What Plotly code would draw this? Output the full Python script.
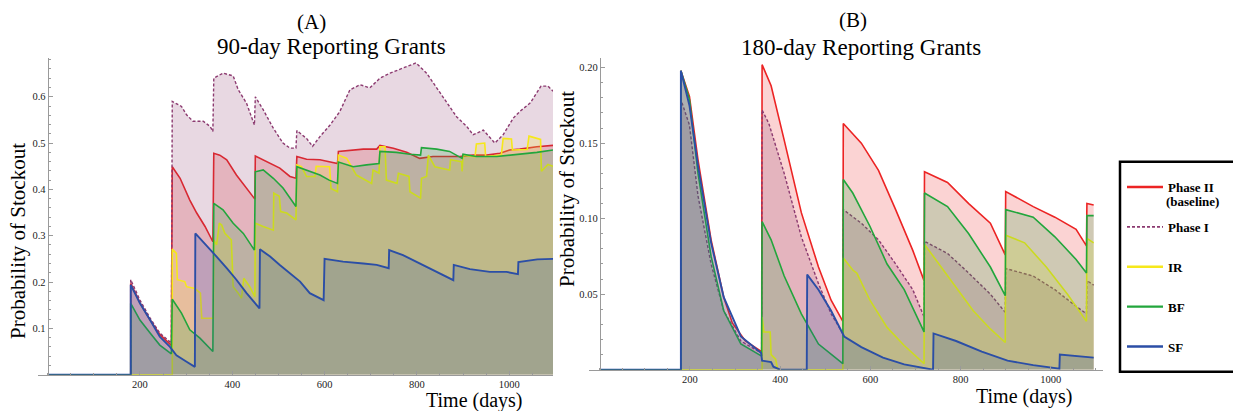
import plotly.graph_objects as go

# ---------------- data (day, probability) ----------------
# Panel A: 90-day reporting grants
A_PHASE2 = [(0,0),(180,0),(180,0.197),(200,0.155),(222,0.118),(243,0.087),(268,0.063),
            (270,0.449),(287,0.424),(308,0.377),(323,0.349),(341,0.320),(358,0.287),
            (360,0.478),(373,0.474),(388,0.464),(409,0.431),(431,0.403),(449,0.379),
            (450,0.472),(474,0.460),(503,0.446),(525,0.428),(538,0.424),
            (540,0.471),(561,0.465),(590,0.464),(610,0.459),(628,0.456),
            (630,0.482),(655,0.485),(684,0.487),(713,0.487),(720,0.495),(749,0.489),
            (778,0.480),(806,0.467),(835,0.471),(864,0.471),(893,0.471),(922,0.474),
            (951,0.474),(980,0.478),(1001,0.485),(1023,0.487),(1060,0.492),(1095,0.495)]
A_PHASE1 = [(0,0),(180,0),(180,0.205),(200,0.161),(222,0.122),(243,0.090),(268,0.068),
            (270,0.590),(290,0.579),(301,0.561),(315,0.547),(337,0.547),(352,0.536),(358,0.525),
            (360,0.640),(380,0.651),(402,0.645),(413,0.615),(431,0.586),(448,0.539),
            (450,0.600),(467,0.572),(489,0.532),(510,0.500),(525,0.489),(538,0.489),
            (540,0.527),(561,0.510),(574,0.493),(590,0.514),(612,0.539),(633,0.568),
            (655,0.615),(677,0.626),(698,0.619),(720,0.640),(742,0.651),(770,0.662),
            (798,0.673),(821,0.651),(843,0.619),(864,0.590),(886,0.557),(908,0.536),
            (922,0.518),(944,0.528),(969,0.500),(987,0.518),(1009,0.554),(1023,0.568),
            (1046,0.587),(1069,0.623),(1084,0.623),(1095,0.612)]
A_IR = [(0,0),(270,0),(270,0.271),(279,0.262),(281,0.205),(297,0.201),(301,0.190),
        (319,0.186),(331,0.176),(334,0.122),(359,0.122),
        (360,0.291),(366,0.280),(372,0.327),(377,0.323),(384,0.305),(398,0.291),
        (402,0.190),(413,0.176),(420,0.165),(425,0.208),(438,0.190),(449,0.168),
        (450,0.327),(467,0.320),(489,0.312),(490,0.392),(502,0.385),(505,0.352),
        (518,0.349),(538,0.334),
        (540,0.453),(550,0.449),(561,0.428),(579,0.428),(582,0.450),(611,0.449),
        (614,0.402),(628,0.395),
        (630,0.474),(648,0.467),(669,0.431),(702,0.413),(705,0.442),(718,0.435),
        (720,0.492),(731,0.492),(734,0.420),(757,0.413),(760,0.435),(783,0.428),
        (785,0.395),(808,0.381),(810,0.424),(821,0.428),(825,0.474),(839,0.449),
        (871,0.442),(873,0.464),(897,0.460),(898,0.439),(900,0.474),(926,0.471),
        (929,0.498),(947,0.500),(949,0.471),(983,0.474),(987,0.510),(1005,0.509),
        (1007,0.485),(1039,0.486),(1043,0.515),(1068,0.508),(1070,0.439),(1084,0.454),
        (1095,0.450)]
A_BF = [(0,0),(180,0),(180,0.154),(200,0.118),(222,0.090),(243,0.064),(268,0.045),
        (270,0.163),(290,0.133),(308,0.097),(330,0.079),(358,0.050),
        (360,0.370),(380,0.356),(402,0.327),(424,0.305),(448,0.269),
        (450,0.438),(467,0.442),(489,0.424),(510,0.403),(538,0.363),
        (540,0.449),(561,0.442),(590,0.431),(610,0.420),(628,0.413),
        (630,0.459),(662,0.449),(691,0.453),(718,0.456),
        (720,0.482),(756,0.480),(785,0.476),(808,0.474),
        (810,0.490),(843,0.487),(871,0.482),(898,0.467),
        (900,0.476),(929,0.471),(973,0.471),(1023,0.476),(1060,0.480),(1095,0.485)]
A_SF = [(0,0),(180,0),(180,0.194),(200,0.154),(222,0.118),(243,0.082),(265,0.060),
        (279,0.042),(301,0.028),(319,0.017),
        (320,0.305),(344,0.280),(366,0.255),(388,0.230),(409,0.205),(431,0.176),(459,0.143),
        (460,0.271),(482,0.255),(503,0.237),(525,0.219),(547,0.201),(568,0.176),(598,0.161),
        (600,0.250),(640,0.244),(684,0.240),(713,0.237),(739,0.230),
        (740,0.269),(770,0.258),(806,0.240),(843,0.222),(879,0.204),
        (880,0.237),(915,0.228),(958,0.222),(994,0.222),(1019,0.217),
        (1020,0.243),(1061,0.249),(1095,0.250)]

# Panel B: 180-day reporting grants
B_PHASE2 = [(0,0),(180,0),(180,0.198),(199,0.181),(218,0.139),(247,0.086),(275,0.048),
            (294,0.031),(323,0.019),(359,0.012),
            (360,0.202),(380,0.188),(409,0.152),(447,0.104),(485,0.068),(513,0.046),(539,0.032),
            (540,0.163),(580,0.150),(618,0.132),(656,0.106),(694,0.079),(719,0.059),
            (720,0.131),(771,0.124),(818,0.110),(866,0.097),(899,0.076),
            (900,0.118),(961,0.108),(1009,0.101),(1056,0.093),(1079,0.082),
            (1080,0.110),(1095,0.109)]
B_PHASE1 = [(0,0),(180,0),(180,0.179),(199,0.162),(218,0.115),(247,0.070),(275,0.039),
            (313,0.019),(359,0.011),
            (360,0.172),(375,0.163),(409,0.130),(447,0.088),(485,0.057),(513,0.037),(539,0.024),
            (540,0.106),(580,0.097),(618,0.086),(656,0.070),(694,0.053),(719,0.035),
            (720,0.085),(771,0.077),(818,0.064),(866,0.050),(899,0.038),
            (900,0.067),(961,0.062),(1009,0.053),(1056,0.042),(1079,0.037),
            (1080,0.059),(1095,0.056)]
B_IR = [(0,0),(360,0),(360,0.035),(364,0.025),(378,0.025),(380,0.010),(390,0.007),(395,0),
        (539,0),(540,0.074),(561,0.066),(570,0.064),(599,0.046),(637,0.028),(675,0.016),(719,0.004),
        (720,0.083),(752,0.070),(790,0.055),(828,0.039),(866,0.027),(899,0.018),
        (900,0.089),(942,0.084),(990,0.068),(1037,0.050),(1079,0.032),
        (1080,0.087),(1095,0.084)]
B_BF = [(0,0),(180,0),(180,0.198),(199,0.179),(218,0.130),(247,0.075),(275,0.039),
        (313,0.017),(359,0.009),
        (360,0.098),(380,0.086),(409,0.062),(447,0.037),(485,0.017),(539,0.004),
        (540,0.126),(561,0.117),(599,0.095),(637,0.070),(675,0.053),(719,0.025),
        (720,0.117),(771,0.108),(818,0.090),(866,0.068),(899,0.049),
        (900,0.106),(961,0.101),(1009,0.088),(1056,0.073),(1079,0.064),
        (1080,0.102),(1095,0.102)]
B_SF = [(0,0),(180,0),(180,0.198),(199,0.175),(218,0.135),(247,0.084),(275,0.048),
        (313,0.022),(358,0.011),(360,0.006),(380,0.005),(385,0.002),(400,0),
        (459,0),(460,0.063),(485,0.053),(513,0.039),(542,0.022),(580,0.015),(628,0.008),
        (675,0.0035),(723,0.0007),(739,0.0),
        (740,0.024),(790,0.019),(847,0.012),(904,0.006),(961,0.003),(1019,0.0007),
        (1020,0.010),(1095,0.008)]

SERIES_NAMES = ["Phase II", "Phase I", "IR", "BF", "SF"]
BASELINE_NOTE = "(baseline)"
X_TICKS = [200, 400, 600, 800, 1000]
A_Y_TICKS = [0.1, 0.2, 0.3, 0.4, 0.5, 0.6]
B_Y_TICKS = [0.05, 0.10, 0.15, 0.20]

# ---------------- style ----------------
COLORS = ["#ec2424", "#8c3a70", "#f6e81a", "#22a63c", "#2b4ea6"]
DASHES = ["solid", "3px,2px", "solid", "solid", "solid"]
WIDTHS = [1.6, 1.4, 1.6, 1.6, 1.9]
FILL_ALPHA = 0.2
SERIF = "Liberation Serif, Times New Roman, serif"
W, H = 1233, 411
AXIS_GRAY = "#9a9a9a"


def rgba(hexc, a):
    h = hexc.lstrip("#")
    r, g, b = int(h[0:2], 16), int(h[2:4], 16), int(h[4:6], 16)
    return f"rgba({r},{g},{b},{a})"


fig = go.Figure()

panels = [("x", "y", [A_PHASE2, A_PHASE1, A_IR, A_BF, A_SF]),
          ("x2", "y2", [B_PHASE2, B_PHASE1, B_IR, B_BF, B_SF])]
for xa, ya, series in panels:
    for i, pts in enumerate(series):
        fig.add_trace(go.Scatter(
            x=[p[0] for p in pts], y=[p[1] for p in pts],
            xaxis=xa, yaxis=ya, mode="lines",
            line=dict(color=COLORS[i], width=WIDTHS[i], dash=DASHES[i]),
            fill="tozeroy", fillcolor=rgba(COLORS[i], FILL_ALPHA),
            showlegend=False, hoverinfo="skip"))

# legend-only entries (line samples)
for i, name in enumerate(SERIES_NAMES):
    fig.add_trace(go.Scatter(
        x=[None], y=[None], mode="lines", name=name, legendgroup=f"g{i}",
        line=dict(color=COLORS[i], width=2.4 if i != 1 else 1.6, dash=DASHES[i])))


def px_x(p):
    return p / W


def px_y(p):
    return 1 - p / H


axis_common = dict(showgrid=False, zeroline=False, showline=True, linecolor=AXIS_GRAY,
                   linewidth=1, ticks="inside", ticklen=4, tickcolor=AXIS_GRAY,
                   tickfont=dict(family=SERIF, size=10.5, color="#222"), fixedrange=True)


def minor(dt):
    return dict(tickmode="linear", tick0=0, dtick=dt, ticks="inside",
                ticklen=2, tickcolor=AXIS_GRAY)


# x axes start a little left of the origin (axes cross at 0, Mathematica style)
fig.update_layout(
    width=W, height=H, margin=dict(l=0, r=0, t=0, b=0),
    paper_bgcolor="white", plot_bgcolor="white",
    xaxis=dict(domain=[px_x(37.5), px_x(553)], range=[-22, 1095], anchor="y",
               tickmode="array", tickvals=X_TICKS, ticktext=[str(v) for v in X_TICKS],
               minor=minor(50), **axis_common),
    yaxis=dict(domain=[px_y(374.7), px_y(58.3)], range=[0, 0.683],
               anchor="free", position=px_x(47.7),
               tickmode="array", tickvals=A_Y_TICKS, ticktext=[f"{v:.1f}" for v in A_Y_TICKS],
               minor=minor(0.02), **axis_common),
    xaxis2=dict(domain=[px_x(589.3), px_x(1102.7)], range=[-23, 1115], anchor="y2",
                tickmode="array", tickvals=X_TICKS, ticktext=[str(v) for v in X_TICKS],
                minor=minor(50), **axis_common),
    yaxis2=dict(domain=[px_y(369.7), px_y(58.3)], range=[0, 0.2062],
                anchor="free", position=px_x(599.8),
                tickmode="array", tickvals=B_Y_TICKS, ticktext=[f"{v:.2f}" for v in B_Y_TICKS],
                minor=minor(0.01), **axis_common),
    legend=dict(x=px_x(1122), y=px_y(172), xanchor="left", yanchor="top",
                bgcolor="rgba(0,0,0,0)", borderwidth=0, itemwidth=36,
                tracegroupgap=20, valign="middle", traceorder="grouped",
                font=dict(family=SERIF, size=13, color="black", weight="bold")),
    shapes=[dict(type="rect", xref="paper", yref="paper",
                 x0=px_x(1120), x1=px_x(1245), y0=px_y(371.7), y1=px_y(161.7),
                 line=dict(color="black", width=2.5))],
)


def ann(text, x, y, size, angle=0, anchor="center", bold=False):
    fig.add_annotation(text=text, xref="paper", yref="paper", x=px_x(x), y=px_y(y),
                       xanchor=anchor, yanchor="middle", showarrow=False, textangle=angle,
                       font=dict(family=SERIF, size=size, color="black",
                                 weight="bold" if bold else "normal"))


ann("(A)", 311.7, 22, 21)
ann("90-day Reporting Grants", 331.5, 46.5, 23)
ann("(B)", 853.3, 19.5, 21)
ann("180-day Reporting Grants", 861, 47.5, 23)
ann("Time (days)", 474, 400.5, 20)
ann("Time (days)", 1024, 396.5, 20)
ann("Probability of Stockout", 18, 241, 21, -90)
ann("Probability of Stockout", 567, 189, 21, -90)
ann(BASELINE_NOTE, 1164, 201.7, 13, anchor="left", bold=True)

fig.write_html("out.html", config={"displayModeBar": False},
               post_script="document.body.style.margin='0px';document.body.style.overflow='hidden';")
